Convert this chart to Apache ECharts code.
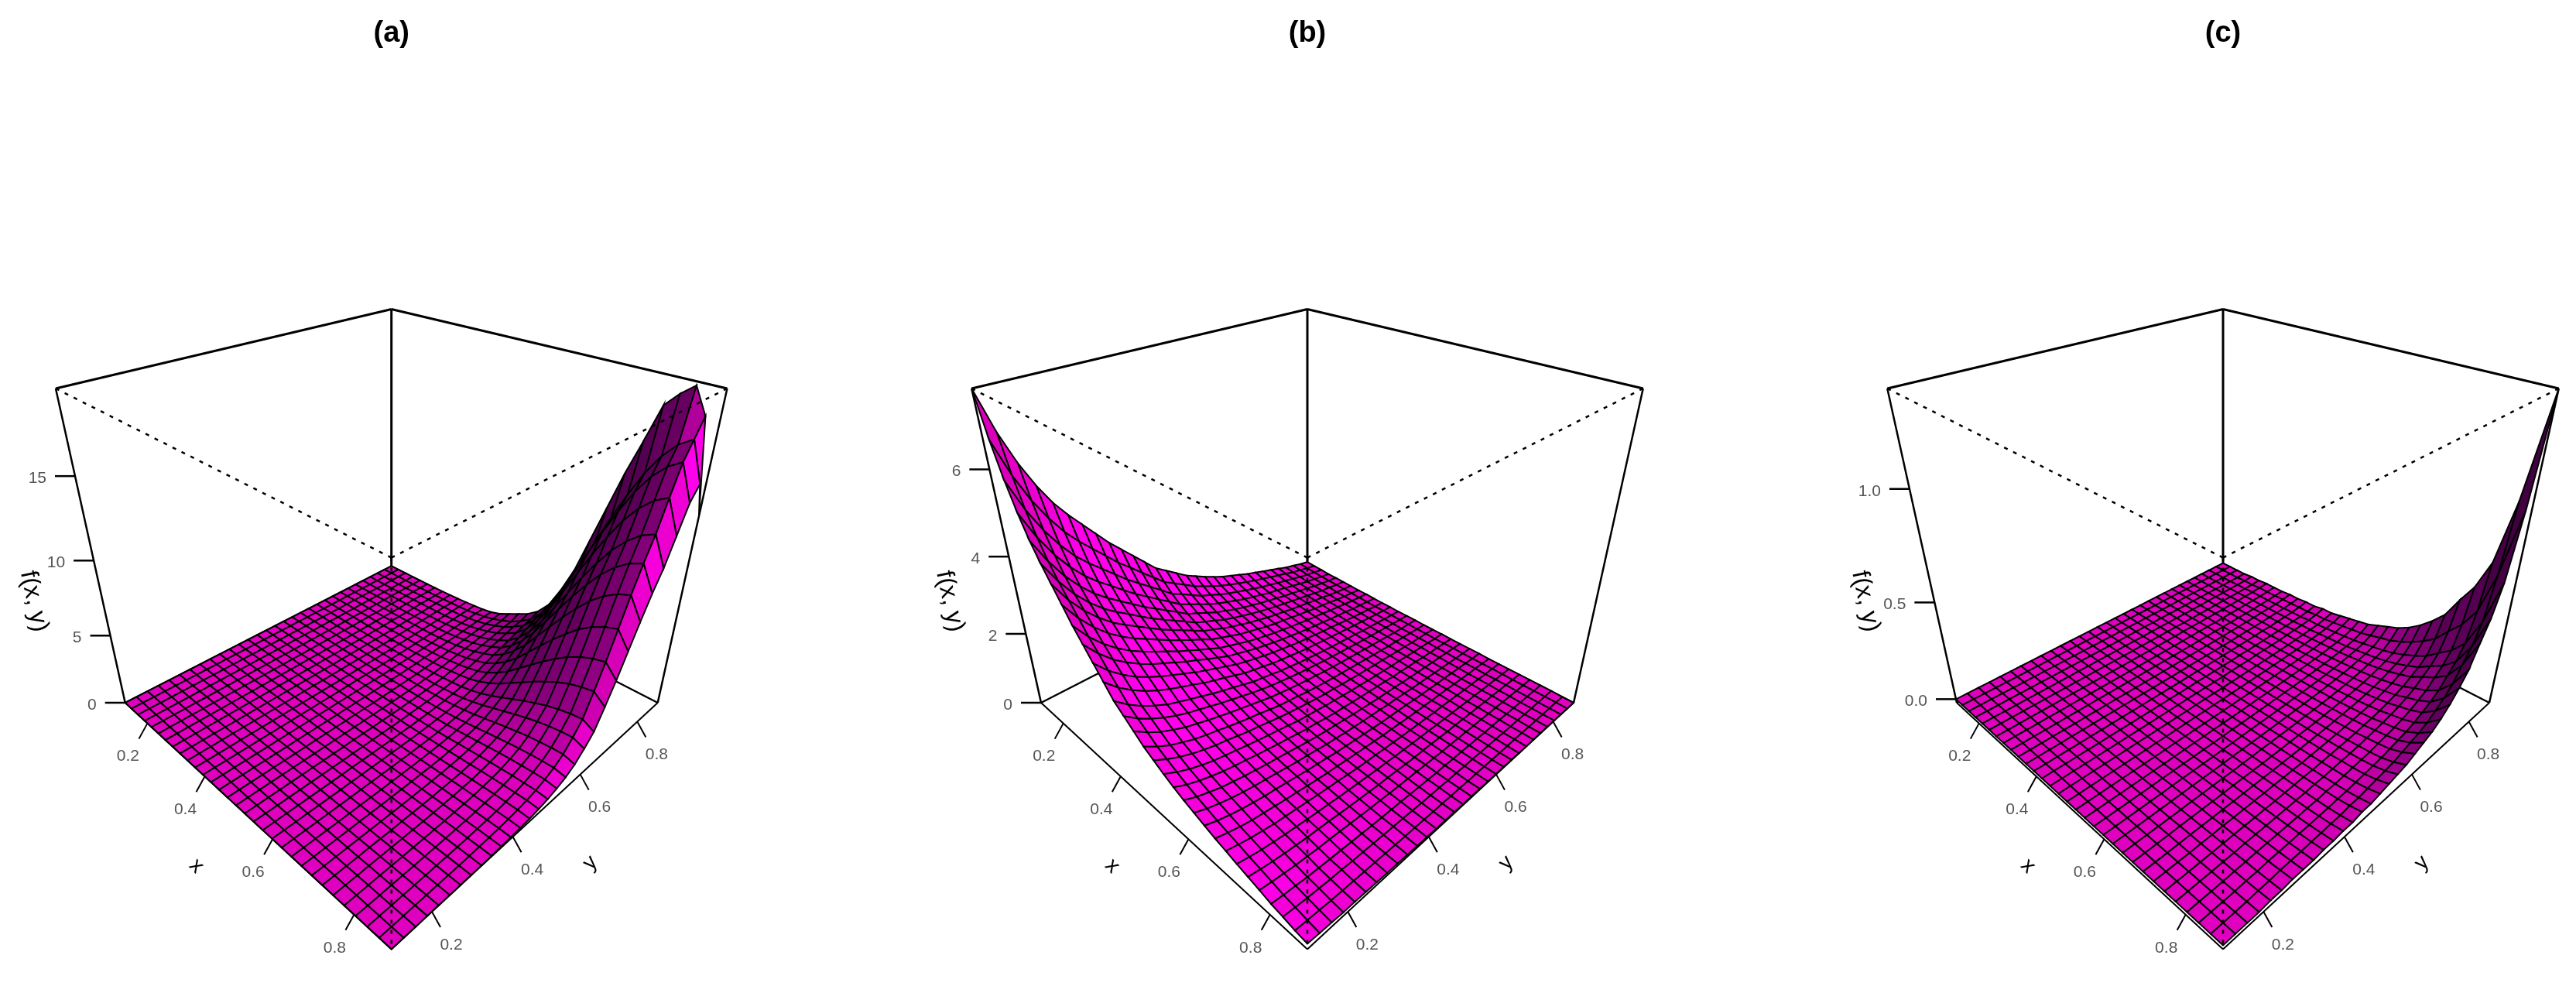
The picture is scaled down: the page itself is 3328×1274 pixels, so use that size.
<!DOCTYPE html>
<html>
<head>
<meta charset="utf-8">
<style>
  html, body { margin: 0; padding: 0; background: #fff; }
  #main { width: 3328px; height: 1274px; }
</style>
<script src="https://cdn.jsdelivr.net/npm/echarts@6/dist/echarts.min.js"></script>
</head>
<body>
<div id="main"></div>
<script>
const panelTitles = ['(a)', '(b)', '(c)']
const axisTicks = [0.2, 0.4, 0.6, 0.8]
const axisRange = [0.113, 0.88]
const zTicksA = [0, 5, 10, 15]
const zTicksB = [0, 2, 4, 6]
const zTicksC = [0, 0.5, 1]
const zLabelsA = ['0', '5', '10', '15']
const zLabelsB = ['0', '2', '4', '6']
const zLabelsC = ['0.0', '0.5', '1.0']
const zRangeA = [0, 19.6]
const zRangeB = [0, 7.65]
const zRangeC = [-0.02, 1.38]

// surface heights, rows are x steps, columns are y steps
const surfaceA = [
  [0,0,0,0,0,0,0,0,0,0,0,0,0,0,0,0,0,0,0,0,0,0,0,0,0,.01,.01,.01,.01,.01,.01],
  [0,0,0,0,0,0,0,0,0,0,0,0,0,0,0,0,0,0,0,0,0,0,0,.01,.01,.01,.01,.01,.01,.01,.01],
  [0,0,0,0,0,0,0,0,0,0,0,0,0,0,0,0,0,0,0,0,0,0,.01,.01,.01,.01,.01,.01,.02,.02,.02],
  [0,0,0,0,0,0,0,0,0,0,0,0,0,0,0,0,0,0,0,0,0,.01,.01,.01,.01,.02,.02,.02,.02,.03,.02],
  [0,0,0,0,0,0,0,0,0,0,0,0,0,0,0,0,0,0,0,0,.01,.01,.01,.02,.02,.02,.03,.03,.03,.03,.03],
  [0,0,0,0,0,0,0,0,0,0,0,0,0,0,0,0,0,0,0,.01,.01,.01,.02,.02,.02,.03,.03,.04,.04,.04,.04],
  [0,0,0,0,0,0,0,0,0,0,0,0,0,0,0,0,0,0,0,.01,.01,.01,.02,.02,.03,.03,.04,.04,.05,.05,.06],
  [0,0,0,0,0,0,0,0,0,0,0,0,0,0,0,0,0,0,.01,.01,.01,.02,.02,.03,.04,.04,.05,.06,.06,.07,.08],
  [0,0,0,0,0,0,0,0,0,0,0,0,0,0,0,0,0,.01,.01,.01,.02,.02,.03,.04,.05,.06,.06,.07,.08,.09,.1],
  [0,0,0,0,0,0,0,0,0,0,0,0,0,0,0,0,.01,.01,.01,.02,.02,.03,.04,.05,.07,.08,.09,.1,.11,.12,.14],
  [0,0,0,0,0,0,0,0,0,0,0,0,0,0,0,0,.01,.01,.01,.02,.03,.04,.05,.07,.09,.1,.11,.13,.14,.15,.18],
  [0,0,0,0,0,0,0,0,0,0,0,0,0,0,0,.01,.01,.01,.02,.03,.04,.05,.07,.09,.11,.13,.15,.17,.19,.2,.24],
  [0,0,0,0,0,0,0,0,0,0,0,0,0,0,.01,.01,.01,.02,.03,.04,.05,.08,.1,.13,.16,.19,.21,.24,.27,.29,.3],
  [0,0,0,0,0,0,0,0,0,0,0,0,0,.01,.01,.01,.02,.03,.04,.05,.07,.11,.14,.19,.23,.27,.3,.34,.38,.41,.42],
  [0,0,0,0,0,0,0,0,0,0,0,0,.01,.01,.01,.02,.03,.04,.05,.07,.1,.15,.2,.26,.32,.38,.43,.49,.54,.58,.65],
  [0,0,0,0,0,0,0,0,0,0,0,.01,.01,.01,.02,.02,.04,.05,.07,.11,.14,.21,.29,.37,.46,.53,.6,.69,.77,.82,1],
  [0,0,0,0,0,0,0,0,0,0,.01,.01,.01,.02,.02,.03,.05,.07,.1,.14,.2,.29,.39,.5,.62,.72,.81,.93,1.04,1.11,1.37],
  [0,0,0,0,0,0,0,0,0,.01,.01,.01,.02,.02,.03,.05,.07,.09,.14,.2,.27,.4,.54,.7,.86,1,1.13,1.29,1.44,1.53,1.74],
  [0,0,0,0,0,0,0,0,.01,.01,.01,.02,.02,.03,.04,.06,.09,.13,.18,.26,.36,.53,.72,.93,1.14,1.33,1.5,1.72,1.92,2.04,2.3],
  [0,0,0,0,0,0,0,.01,.01,.01,.02,.02,.03,.04,.06,.09,.13,.18,.26,.37,.51,.76,1.02,1.32,1.62,1.89,2.13,2.43,2.72,2.89,3.2],
  [0,0,0,0,0,0,0,.01,.01,.02,.02,.03,.04,.06,.09,.12,.18,.25,.36,.53,.72,1.07,1.44,1.86,2.28,2.66,3,3.43,3.84,4.08,4.7],
  [0,0,0,0,0,0,.01,.01,.01,.02,.03,.04,.06,.09,.12,.17,.25,.35,.5,.73,.99,1.47,1.98,2.55,3.14,3.66,4.13,4.72,5.28,5.61,6.5],
  [0,0,0,0,0,.01,.01,.01,.02,.03,.04,.06,.08,.11,.16,.23,.33,.46,.66,.97,1.32,1.96,2.64,3.41,4.18,4.88,5.5,6.29,7.04,7.48,8.9],
  [0,0,0,0,.01,.01,.01,.02,.02,.04,.05,.07,.1,.14,.2,.29,.41,.58,.83,1.21,1.65,2.45,3.3,4.26,5.23,6.11,6.88,7.87,8.8,9.35,11.3],
  [0,0,0,0,.01,.01,.01,.02,.03,.04,.06,.09,.12,.17,.24,.34,.5,.69,.99,1.45,1.98,2.94,3.96,5.11,6.27,7.33,8.25,9.44,10.56,11.22,13.7],
  [0,0,0,.01,.01,.01,.02,.02,.03,.05,.07,.1,.14,.2,.28,.4,.57,.8,1.14,1.67,2.28,3.38,4.56,5.88,7.22,8.44,9.5,10.87,12.16,12.92,15.8],
  [0,0,0,.01,.01,.01,.02,.03,.04,.06,.08,.11,.15,.22,.31,.44,.64,.89,1.28,1.87,2.55,3.78,5.1,6.58,8.08,9.44,10.63,12.16,13.6,14.45,18],
  [0,0,0,.01,.01,.01,.02,.03,.04,.06,.08,.12,.17,.24,.34,.48,.69,.97,1.38,2.02,2.76,4.09,5.52,7.12,8.74,10.21,11.5,13.16,14.72,15.64,18.8],
  [0,0,0,.01,.01,.01,.02,.03,.04,.06,.09,.13,.17,.25,.36,.5,.73,1.02,1.46,2.13,2.91,4.32,5.82,7.51,9.22,10.77,12.13,13.87,15.52,16.49,19.4],
  [.001,.002,.004,.007,.01,.015,.02,.03,.045,.065,.09,.13,.18,.26,.37,.52,.75,1.05,1.5,2.2,3,4.45,6,7.74,9.5,11.1,12.5,14.3,16,17,18],
  [0,0,0,.01,.01,.01,.02,.03,.04,.06,.08,.11,.16,.22,.32,.45,.65,.91,1.3,1.9,2.6,3.85,5.2,6.7,8.2,9.6,10.8,12.4,14,14.8,12.7]
]

const surfaceB = [
  [7.65,6.7,5.95,5.35,4.85,4.45,4.1,3.75,3.4,3.1,2.8,2.5,2.2,2,1.8,1.6,1.45,1.3,1.17,1.05,.95,.85,.75,.67,.58,.5,.42,.33,.27,.2,.15],
  [6.7,5.87,5.21,4.69,4.25,3.9,3.59,3.29,2.98,2.72,2.45,2.19,1.93,1.75,1.58,1.4,1.27,1.14,1.02,.92,.83,.74,.66,.59,.51,.44,.37,.29,.24,.18,.13],
  [5.95,5.21,4.63,4.16,3.77,3.46,3.19,2.92,2.65,2.41,2.18,1.95,1.71,1.56,1.4,1.24,1.13,1.01,.91,.82,.74,.66,.58,.52,.45,.39,.33,.26,.21,.16,.12],
  [5.35,4.69,4.16,3.74,3.39,3.11,2.87,2.62,2.38,2.17,1.96,1.75,1.54,1.4,1.26,1.12,1.01,.91,.82,.73,.66,.59,.52,.47,.41,.35,.29,.23,.19,.14,.1],
  [4.85,4.25,3.77,3.39,3.07,2.82,2.6,2.38,2.16,1.97,1.78,1.59,1.39,1.27,1.14,1.01,.92,.82,.74,.67,.6,.54,.48,.42,.37,.32,.27,.21,.17,.13,.1],
  [4.45,3.9,3.46,3.11,2.82,2.59,2.39,2.18,1.98,1.8,1.63,1.46,1.28,1.16,1.05,.93,.84,.76,.68,.61,.55,.49,.44,.39,.34,.29,.24,.19,.16,.12,.09],
  [4.1,3.59,3.19,2.87,2.6,2.39,2.2,2.01,1.82,1.66,1.5,1.34,1.18,1.07,.96,.86,.78,.7,.63,.56,.51,.46,.4,.36,.31,.27,.23,.18,.14,.11,.08],
  [3.75,3.29,2.92,2.62,2.38,2.18,2.01,1.84,1.67,1.52,1.37,1.23,1.08,.98,.88,.78,.71,.64,.57,.51,.47,.42,.37,.33,.28,.25,.21,.16,.13,.1,.07],
  [3.4,2.98,2.65,2.38,2.16,1.98,1.82,1.67,1.51,1.38,1.24,1.11,.98,.89,.8,.71,.64,.58,.52,.47,.42,.38,.33,.3,.26,.22,.19,.15,.12,.09,.07],
  [3.1,2.72,2.41,2.17,1.97,1.8,1.66,1.52,1.38,1.26,1.13,1.01,.89,.81,.73,.65,.59,.53,.47,.43,.38,.34,.3,.27,.23,.2,.17,.13,.11,.08,.06],
  [2.8,2.45,2.18,1.96,1.78,1.63,1.5,1.37,1.24,1.13,1.02,.92,.81,.73,.66,.59,.53,.48,.43,.38,.35,.31,.27,.25,.21,.18,.15,.12,.1,.07,.05],
  [2.5,2.19,1.95,1.75,1.59,1.46,1.34,1.23,1.11,1.01,.92,.82,.72,.65,.59,.52,.47,.43,.38,.34,.31,.28,.25,.22,.19,.16,.14,.11,.09,.07,.05],
  [2.2,1.93,1.71,1.54,1.39,1.28,1.18,1.08,.98,.89,.81,.72,.63,.58,.52,.46,.42,.37,.34,.3,.27,.24,.22,.19,.17,.14,.12,.1,.08,.06,.04],
  [2,1.75,1.56,1.4,1.27,1.16,1.07,.98,.89,.81,.73,.65,.58,.52,.47,.42,.38,.34,.31,.27,.25,.22,.2,.17,.15,.13,.11,.09,.07,.05,.04],
  [1.8,1.58,1.4,1.26,1.14,1.05,.96,.88,.8,.73,.66,.59,.52,.47,.42,.38,.34,.31,.27,.25,.22,.2,.18,.16,.14,.12,.1,.08,.06,.05,.04],
  [1.6,1.4,1.24,1.12,1.01,.93,.86,.78,.71,.65,.59,.52,.46,.42,.38,.33,.3,.27,.24,.22,.2,.18,.16,.14,.12,.1,.09,.07,.06,.04,.03],
  [1.45,1.27,1.13,1.01,.92,.84,.78,.71,.64,.59,.53,.47,.42,.38,.34,.3,.27,.25,.22,.2,.18,.16,.14,.13,.11,.09,.08,.06,.05,.04,.03],
  [1.3,1.14,1.01,.91,.82,.76,.7,.64,.58,.53,.48,.43,.37,.34,.31,.27,.25,.22,.2,.18,.16,.14,.13,.11,.1,.09,.07,.06,.05,.03,.03],
  [1.17,1.02,.91,.82,.74,.68,.63,.57,.52,.47,.43,.38,.34,.31,.27,.24,.22,.2,.18,.16,.15,.13,.11,.1,.09,.08,.06,.05,.04,.03,.02],
  [1.05,.92,.82,.73,.67,.61,.56,.51,.47,.43,.38,.34,.3,.27,.25,.22,.2,.18,.16,.14,.13,.12,.1,.09,.08,.07,.06,.05,.04,.03,.02],
  [.95,.83,.74,.66,.6,.55,.51,.47,.42,.38,.35,.31,.27,.25,.22,.2,.18,.16,.15,.13,.12,.11,.09,.08,.07,.06,.05,.04,.03,.02,.02],
  [.85,.74,.66,.59,.54,.49,.46,.42,.38,.34,.31,.28,.24,.22,.2,.18,.16,.14,.13,.12,.11,.09,.08,.07,.06,.06,.05,.04,.03,.02,.02],
  [.75,.66,.58,.52,.48,.44,.4,.37,.33,.3,.27,.25,.22,.2,.18,.16,.14,.13,.11,.1,.09,.08,.07,.07,.06,.05,.04,.03,.03,.02,.01],
  [.67,.59,.52,.47,.42,.39,.36,.33,.3,.27,.25,.22,.19,.17,.16,.14,.13,.11,.1,.09,.08,.07,.07,.06,.05,.04,.04,.03,.02,.02,.01],
  [.58,.51,.45,.41,.37,.34,.31,.28,.26,.23,.21,.19,.17,.15,.14,.12,.11,.1,.09,.08,.07,.06,.06,.05,.04,.04,.03,.03,.02,.02,.01],
  [.5,.44,.39,.35,.32,.29,.27,.25,.22,.2,.18,.16,.14,.13,.12,.1,.09,.09,.08,.07,.06,.06,.05,.04,.04,.03,.03,.02,.02,.01,.01],
  [.42,.37,.33,.29,.27,.24,.23,.21,.19,.17,.15,.14,.12,.11,.1,.09,.08,.07,.06,.06,.05,.05,.04,.04,.03,.03,.02,.02,.01,.01,.01],
  [.33,.29,.26,.23,.21,.19,.18,.16,.15,.13,.12,.11,.1,.09,.08,.07,.06,.06,.05,.05,.04,.04,.03,.03,.03,.02,.02,.01,.01,.01,.01],
  [.27,.24,.21,.19,.17,.16,.14,.13,.12,.11,.1,.09,.08,.07,.06,.06,.05,.05,.04,.04,.03,.03,.03,.02,.02,.02,.01,.01,.01,.01,.01],
  [.2,.18,.16,.14,.13,.12,.11,.1,.09,.08,.07,.07,.06,.05,.05,.04,.04,.03,.03,.03,.02,.02,.02,.02,.02,.01,.01,.01,.01,.01,0],
  [.15,.13,.12,.1,.1,.09,.08,.07,.07,.06,.05,.05,.04,.04,.04,.03,.03,.03,.02,.02,.02,.02,.01,.01,.01,.01,.01,.01,.01,0,0]
]

const surfaceC = [
  [0,0,0,0,0,0,0,0,0,0,0,0,0,0,0,0,0,0,0,0,0,0,0,0,0,0,0,0,0,0,0],
  [0,0,0,0,0,0,0,0,0,0,0,0,0,0,0,0,0,0,0,0,0,0,0,0,0,0,0,0,0,0,0],
  [0,0,0,0,0,0,0,0,0,0,0,0,0,0,0,0,0,0,0,0,0,0,0,0,0,0,0,0,0,0,0],
  [0,0,0,0,0,0,0,0,0,0,0,0,0,0,0,0,0,0,0,0,0,0,0,0,0,0,0,0,0,0,0],
  [0,0,0,0,0,0,0,0,0,0,0,0,0,0,0,0,0,0,0,0,0,0,0,0,.001,.001,.001,.002,.002,.003,.005],
  [0,0,0,0,0,0,0,0,0,0,0,0,0,0,0,0,0,0,0,0,0,0,0,0,.001,.001,.001,.002,.002,.003,.005],
  [0,0,0,0,0,0,0,0,0,0,0,0,0,0,0,0,0,0,0,.001,.001,.001,.001,.001,.002,.002,.003,.004,.005,.007,.01],
  [0,0,0,0,0,0,0,0,0,0,0,0,0,0,0,0,0,0,0,.001,.001,.001,.001,.001,.002,.002,.003,.004,.005,.007,.01],
  [0,0,0,0,0,0,0,0,0,0,0,0,0,0,0,0,0,0,0,.001,.001,.001,.001,.001,.002,.002,.003,.004,.005,.007,.01],
  [0,0,0,0,0,0,0,0,0,0,0,0,0,0,0,0,.001,.001,.001,.001,.001,.001,.002,.002,.003,.003,.005,.006,.007,.01,.015],
  [0,0,0,0,0,0,0,0,0,0,0,0,0,0,0,0,.001,.001,.001,.001,.001,.001,.002,.002,.003,.003,.005,.006,.007,.01,.015],
  [0,0,0,0,0,0,0,0,0,0,0,0,0,0,0,.001,.001,.001,.001,.001,.002,.002,.002,.003,.004,.004,.006,.007,.009,.013,.02],
  [0,0,0,0,0,0,0,0,0,0,0,0,0,0,0,.001,.001,.001,.001,.001,.002,.002,.002,.003,.004,.004,.006,.007,.009,.013,.02],
  [0,0,0,0,0,0,0,0,0,0,0,0,0,.001,.001,.001,.001,.001,.002,.002,.002,.003,.004,.004,.005,.007,.009,.011,.014,.02,.03],
  [0,0,0,0,0,0,0,0,0,0,0,0,0,.001,.001,.001,.001,.001,.002,.002,.002,.003,.004,.004,.005,.007,.009,.011,.014,.02,.03],
  [0,0,0,0,0,0,0,0,0,0,0,.001,.001,.001,.001,.001,.001,.002,.002,.003,.003,.004,.005,.006,.007,.009,.012,.015,.019,.027,.04],
  [0,0,0,0,0,0,0,0,0,.001,.001,.001,.001,.001,.001,.001,.002,.002,.003,.003,.004,.005,.006,.007,.009,.011,.015,.018,.023,.033,.05],
  [0,0,0,0,0,0,0,0,0,.001,.001,.001,.001,.001,.001,.002,.002,.003,.003,.004,.005,.006,.007,.009,.011,.013,.018,.022,.028,.04,.06],
  [0,0,0,0,0,0,.001,.001,.001,.001,.001,.001,.001,.002,.002,.002,.003,.003,.004,.005,.006,.007,.008,.01,.013,.016,.021,.026,.033,.047,.07],
  [0,0,0,0,0,0,.001,.001,.001,.001,.001,.001,.001,.002,.002,.003,.003,.004,.005,.006,.007,.008,.01,.013,.016,.02,.027,.033,.042,.06,.09],
  [0,0,0,0,0,0,.001,.001,.001,.001,.001,.002,.002,.002,.002,.003,.004,.005,.006,.007,.009,.01,.013,.016,.02,.025,.033,.04,.051,.074,.11],
  [0,0,0,0,0,0,.001,.001,.001,.001,.001,.002,.002,.003,.003,.004,.005,.006,.007,.008,.01,.012,.015,.019,.024,.029,.039,.047,.06,.087,.13],
  [0,0,0,0,.001,.001,.001,.001,.001,.002,.002,.002,.002,.003,.003,.005,.006,.007,.008,.01,.013,.015,.019,.023,.029,.036,.048,.058,.074,.108,.16],
  [0,0,0,0,.001,.001,.001,.001,.001,.002,.002,.003,.003,.004,.004,.006,.007,.009,.01,.013,.016,.019,.023,.029,.036,.045,.059,.073,.093,.135,.2],
  [0,0,0,0,.001,.001,.002,.002,.002,.003,.003,.004,.004,.005,.005,.007,.009,.011,.013,.016,.02,.024,.029,.036,.045,.056,.074,.091,.116,.168,.25],
  [0,0,0,0,.001,.001,.002,.002,.002,.003,.003,.005,.005,.007,.007,.009,.011,.014,.016,.02,.025,.029,.036,.045,.056,.07,.092,.113,.144,.209,.31],
  [0,0,0,0,.001,.001,.003,.003,.003,.004,.004,.006,.006,.009,.009,.012,.015,.018,.021,.027,.033,.039,.048,.059,.074,.092,.122,.149,.19,.276,.41],
  [0,0,0,0,.002,.002,.004,.004,.004,.005,.005,.007,.007,.011,.011,.014,.018,.022,.025,.033,.04,.047,.058,.072,.091,.112,.148,.181,.232,.337,.5],
  [0,0,0,0,.002,.002,.005,.005,.005,.007,.007,.009,.009,.014,.014,.019,.023,.028,.032,.042,.051,.06,.074,.093,.116,.144,.19,.232,.297,.431,.64],
  [0,0,0,0,.003,.003,.007,.007,.007,.01,.01,.013,.013,.02,.02,.027,.034,.04,.047,.061,.074,.088,.108,.135,.168,.209,.276,.337,.431,.627,.93],
  [0,0,0,0,.005,.005,.01,.01,.01,.015,.015,.02,.02,.03,.03,.04,.05,.06,.07,.09,.11,.13,.16,.2,.25,.31,.41,.5,.64,.93,1.38]
]

const surfaces = [surfaceA, surfaceB, surfaceC]
const zRanges = [zRangeA, zRangeB, zRangeC]
const zTicks = [zTicksA, zTicksB, zTicksC]
const zLabels = [zLabelsA, zLabelsB, zLabelsC]

// view settings of the three persp boxes
const centerX = [505.7, 1689, 2872]
const centerY = 728.4
const focal = 1031
const dist = 3.8
const expand = 0.8587
const sinPhi = 0.5105
const cosPhi = 0.8598
const light = [0.5, -0.55, 0.67]
const shadeStops = [
  [-1, 40, 0, 40], [-0.5, 60, 0, 60], [0, 100, 0, 95], [0.3, 150, 0, 135],
  [0.5, 190, 0, 165], [0.67, 224, 0, 192], [0.85, 255, 0, 235], [1, 255, 0, 245]
]
const font = '"Liberation Sans", Arial, sans-serif'

// u, v, w all run -1..1 over the box
function world (u, v, w) {
  return [(u + v) * Math.SQRT1_2, (v - u) * Math.SQRT1_2, w * expand]
}
function view (panel, u, v, w) {
  const p = world(u, v, w)
  const depth = dist + p[1] * cosPhi - p[2] * sinPhi
  const y = p[1] * sinPhi + p[2] * cosPhi
  return [centerX[panel] + focal * p[0] / depth, centerY - focal * y / depth]
}
function zToW (panel, z) {
  const r = zRanges[panel]
  return -1 + 2 * (z - r[0]) / (r[1] - r[0])
}
function axisToU (val) {
  return -1 + 2 * (val - axisRange[0]) / (axisRange[1] - axisRange[0])
}
function gridPoint (panel, i, j) {
  const n = surfaces[panel].length - 1
  return [-1 + 2 * i / n, -1 + 2 * j / n, zToW(panel, surfaces[panel][i][j])]
}
function shadeColor (d) {
  for (let k = 1; k < shadeStops.length; k++) {
    if (d <= shadeStops[k][0]) {
      const a = shadeStops[k - 1]
      const b = shadeStops[k]
      const t = (d - a[0]) / (b[0] - a[0])
      return 'rgb(' + [1, 2, 3].map(c => Math.round(a[c] + (b[c] - a[c]) * t)).join(',') + ')'
    }
  }
  return 'rgb(255,0,245)'
}
function facetColor (panel, i, j) {
  const a = gridPoint(panel, i, j)
  const b = gridPoint(panel, i + 1, j + 1)
  const c = gridPoint(panel, i + 1, j)
  const d = gridPoint(panel, i, j + 1)
  const pa = world(a[0], a[1], a[2])
  const pb = world(b[0], b[1], b[2])
  const pc = world(c[0], c[1], c[2])
  const pd = world(d[0], d[1], d[2])
  const e1 = [pb[0] - pa[0], pb[1] - pa[1], pb[2] - pa[2]]
  const e2 = [pd[0] - pc[0], pd[1] - pc[1], pd[2] - pc[2]]
  let nx = e1[1] * e2[2] - e1[2] * e2[1]
  let ny = e1[2] * e2[0] - e1[0] * e2[2]
  let nz = e1[0] * e2[1] - e1[1] * e2[0]
  if (nz < 0) { nx = -nx; ny = -ny; nz = -nz }
  const len = Math.sqrt(nx * nx + ny * ny + nz * nz)
  return shadeColor((nx * light[0] + ny * light[1] + nz * light[2]) / len)
}

function seg (api, panel, p, q, width, dash) {
  const a = api.coord(view(panel, p[0], p[1], p[2]))
  const b = api.coord(view(panel, q[0], q[1], q[2]))
  return {
    type: 'line',
    shape: { x1: a[0], y1: a[1], x2: b[0], y2: b[1] },
    style: { stroke: '#000', lineWidth: width, lineDash: dash || null }
  }
}
function label (x, y, text, size, color, align, rot) {
  return {
    type: 'text',
    x: x,
    y: y,
    rotation: rot || 0,
    style: {
      text: text,
      fill: color,
      fontSize: size,
      fontFamily: font,
      textAlign: align || 'center',
      textVerticalAlign: 'middle'
    }
  }
}

function renderBack (params, api) {
  const panel = api.value(0)
  const kids = [
    seg(api, panel, [-1, -1, 1], [-1, 1, 1], 3),
    seg(api, panel, [-1, 1, 1], [1, 1, 1], 3),
    seg(api, panel, [-1, 1, -1], [-1, 1, 1], 3),
    seg(api, panel, [-1, -1, -1], [-1, -1, 1], 2.5),
    seg(api, panel, [1, 1, -1], [1, 1, 1], 2.5),
    seg(api, panel, [-1, -1, -1], [-1, 1, -1], 2.5),
    seg(api, panel, [1, 1, -1], [-1, 1, -1], 2.5)
  ]
  return { type: 'group', children: kids }
}

function renderFacet (params, api) {
  const panel = api.value(0)
  const i = api.value(1)
  const j = api.value(2)
  const corners = [[i, j], [i + 1, j], [i + 1, j + 1], [i, j + 1]]
  const pts = corners.map(c => {
    const g = gridPoint(panel, c[0], c[1])
    return api.coord(view(panel, g[0], g[1], g[2]))
  })
  return {
    type: 'polygon',
    shape: { points: pts },
    style: { fill: facetColor(panel, i, j), stroke: '#000', lineWidth: 2 }
  }
}

function renderFront (params, api) {
  const panel = api.value(0)
  const dots = [5, 8]
  const kids = [
    seg(api, panel, [-1, -1, 1], [1, -1, 1], 2.5, dots),
    seg(api, panel, [1, 1, 1], [1, -1, 1], 2.5, dots),
    seg(api, panel, [1, -1, 1], [1, -1, -1], 2.5, dots),
    seg(api, panel, [-1, -1, -1], [1, -1, -1], 2),
    seg(api, panel, [1, 1, -1], [1, -1, -1], 2)
  ]
  axisTicks.forEach(t => {
    const u = axisToU(t)
    const a = api.coord(view(panel, u, -1, -1))
    const b = api.coord(view(panel, 1, u, -1))
    kids.push({ type: 'line', shape: { x1: a[0], y1: a[1], x2: a[0] - 11, y2: a[1] + 20 }, style: { stroke: '#000', lineWidth: 2 } })
    kids.push({ type: 'line', shape: { x1: b[0], y1: b[1], x2: b[0] + 11, y2: b[1] + 20 }, style: { stroke: '#000', lineWidth: 2 } })
    kids.push(label(a[0] - 25, a[1] + 43, String(t), 21, '#555'))
    kids.push(label(b[0] + 25, b[1] + 43, String(t), 21, '#555'))
  })
  zTicks[panel].forEach((z, k) => {
    const a = api.coord(view(panel, -1, -1, zToW(panel, z)))
    kids.push({ type: 'line', shape: { x1: a[0], y1: a[1], x2: a[0] - 26, y2: a[1] }, style: { stroke: '#000', lineWidth: 2.5 } })
    kids.push(label(a[0] - 37, a[1] + 3, zLabels[panel][k], 21, '#555', 'right'))
  })
  const cx = api.coord([centerX[panel], 1119])
  kids.push(label(cx[0] - 252, cx[1], 'x', 28, '#000', 'center', -Math.PI / 4))
  kids.push(label(cx[0] + 257, cx[1] - 4, 'y', 28, '#000', 'center', Math.PI / 4))
  kids.push(label(cx[0] - 462, cx[1] - 342, 'f(x, y)', 32, '#000', 'center', -78 * Math.PI / 180))
  return { type: 'group', children: kids }
}

const facetData = []
surfaces.forEach((s, panel) => {
  const n = s.length - 1
  // far corner first so nearer cells paint over it
  for (let i = 0; i < n; i++) {
    for (let j = n - 1; j >= 0; j--) {
      facetData.push([panel, i, j])
    }
  }
})
const panelData = panelTitles.map((t, k) => [k])

const chart = echarts.init(document.getElementById('main'))
chart.setOption({
  animation: false,
  backgroundColor: '#fff',
  title: panelTitles.map((t, k) => ({
    text: t,
    left: centerX[k] - 5,
    top: 20,
    textAlign: 'center',
    textStyle: { fontFamily: font, fontSize: 38, fontWeight: 'bold', color: '#000' }
  })),
  grid: { left: 0, right: 0, top: 0, bottom: 0 },
  xAxis: { type: 'value', min: 0, max: 3328, show: false },
  yAxis: { type: 'value', min: 0, max: 1274, inverse: true, show: false },
  series: [
    { type: 'custom', coordinateSystem: 'cartesian2d', renderItem: renderBack, data: panelData, silent: true, z: 1, clip: false },
    { type: 'custom', coordinateSystem: 'cartesian2d', renderItem: renderFacet, data: facetData, silent: true, z: 2, clip: false, progressive: 0 },
    { type: 'custom', coordinateSystem: 'cartesian2d', renderItem: renderFront, data: panelData, silent: true, z: 3, clip: false }
  ]
})
</script>
</body>
</html>
